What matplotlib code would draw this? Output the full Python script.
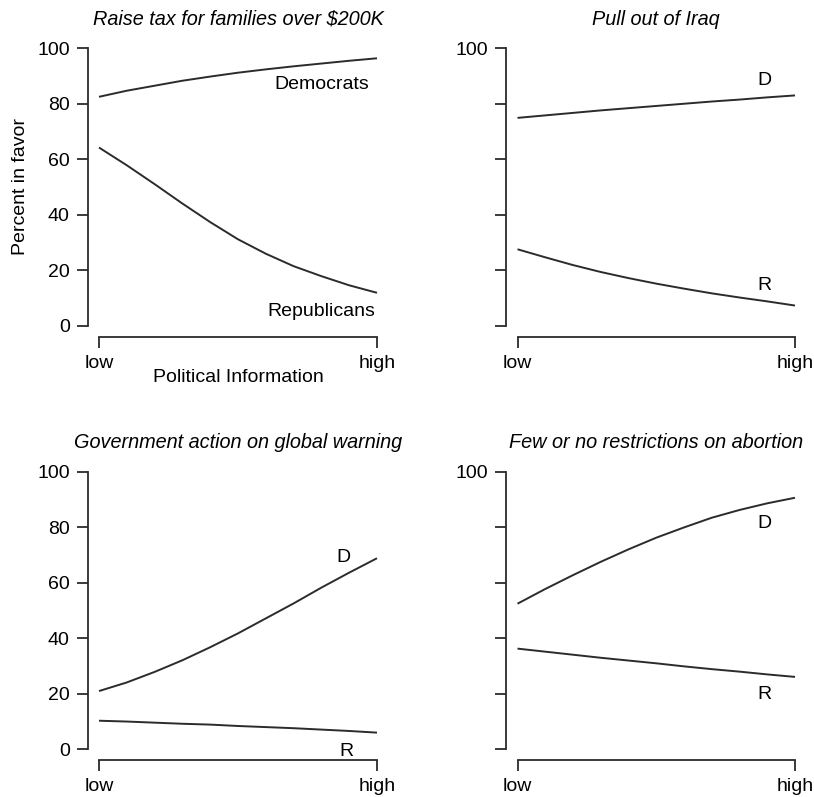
import numpy as np
import matplotlib
matplotlib.use("Agg")
import matplotlib.pyplot as plt

plt.rcParams['font.family'] = ['Liberation Sans', 'DejaVu Sans']

# Political information, scaled from low (0) to high (1)
info = [0.0, 0.1, 0.2, 0.3, 0.4, 0.5, 0.6, 0.7, 0.8, 0.9, 1.0]
info_ticks = [0.0, 1.0]
info_labels = ["low", "high"]

titles = ["Raise tax for families over $200K",
          "Pull out of Iraq",
          "Government action on global warning",
          "Few or no restrictions on abortion"]

tax_dem = [82.5, 84.7, 86.5, 88.3, 89.8, 91.2, 92.4, 93.5, 94.5, 95.5, 96.4]
tax_rep = [64.2, 57.8, 51.0, 44.0, 37.3, 31.1, 25.9, 21.4, 17.8, 14.5, 11.8]

iraq_dem = [74.9, 75.8, 76.7, 77.6, 78.4, 79.2, 80.0, 80.8, 81.5, 82.3, 83.0]
iraq_rep = [27.5, 24.6, 21.8, 19.3, 17.1, 15.1, 13.3, 11.6, 10.1, 8.7, 7.2]

warm_dem = [20.9, 24.0, 27.8, 32.0, 36.7, 41.7, 47.1, 52.5, 58.2, 63.6, 68.8]
warm_rep = [10.2, 9.9, 9.5, 9.1, 8.8, 8.3, 7.9, 7.5, 7.0, 6.5, 5.9]

abort_dem = [52.4, 57.7, 62.7, 67.5, 72.0, 76.2, 79.9, 83.4, 86.2, 88.6, 90.6]
abort_rep = [36.2, 35.1, 34.0, 32.9, 31.9, 30.9, 29.8, 28.8, 27.9, 26.9, 26.0]

y_ticks = [0, 20, 40, 60, 80, 100]

dem_series = [tax_dem, iraq_dem, warm_dem, abort_dem]
rep_series = [tax_rep, iraq_rep, warm_rep, abort_rep]
dem_names = ["Democrats", "D", "D", "D"]
rep_names = ["Republicans", "R", "R", "R"]

W, H = 814, 797
fig = plt.figure(figsize=(W / 100, H / 100), dpi=100)
fig.patch.set_facecolor("white")

# panel boxes in pixels: (left, right, top(y=100), bottom(y=0))
boxes = [(99, 377, 48.3, 325.5),
         (517.5, 795, 48.3, 325.5),
         (99, 377, 471.7, 749),
         (517.5, 795, 471.7, 749)]

# label anchor positions (x data, y data)
dem_lab = [(0.80, 87.0), (0.89, 88.5), (0.88, 69.0), (0.89, 81.5)]
rep_lab = [(0.80, 5.0), (0.89, 14.5), (0.89, -0.8), (0.89, 19.5)]

col = "#2b2b2b"
fs = 14

for i in range(4):
    l, r, t, b = boxes[i]
    ax = fig.add_axes([l / W, 1 - b / H, (r - l) / W, (b - t) / H])
    ax.set_xlim(0, 1)
    ax.set_ylim(0, 100)
    ax.patch.set_alpha(0)
    ax.plot(info, dem_series[i], color=col, lw=1.4, clip_on=False,
            solid_capstyle="butt", solid_joinstyle="round")
    ax.plot(info, rep_series[i], color=col, lw=1.4, clip_on=False,
            solid_capstyle="butt", solid_joinstyle="round")
    ax.text(*dem_lab[i], dem_names[i], ha="center", va="center", fontsize=fs, color="black")
    ax.text(*rep_lab[i], rep_names[i], ha="center", va="center", fontsize=fs, color="black")
    for s in ["top", "right"]:
        ax.spines[s].set_visible(False)
    for s in ["left", "bottom"]:
        ax.spines[s].set_position(("outward", 8))
        ax.spines[s].set_color(col)
        ax.spines[s].set_linewidth(1.3)
    ax.set_xticks(info_ticks)
    ax.set_xticklabels(info_labels)
    ax.set_yticks(y_ticks)
    if i in (0, 2):
        ax.set_yticklabels([str(v) for v in y_ticks])
    else:
        ax.set_yticklabels(["", "", "", "", "", "100"])
    ax.tick_params(axis="both", direction="out", length=8, width=1.3, color=col,
                   labelsize=fs, labelcolor="black", pad=5)
    ax.set_title(titles[i], fontsize=14.3, style="italic", pad=17)
    if i == 0:
        ax.set_ylabel("Percent in favor", fontsize=fs, labelpad=6)
        ax.set_xlabel("Political Information", fontsize=fs, labelpad=-2)

fig.savefig("out.png", dpi=100, facecolor="white")
